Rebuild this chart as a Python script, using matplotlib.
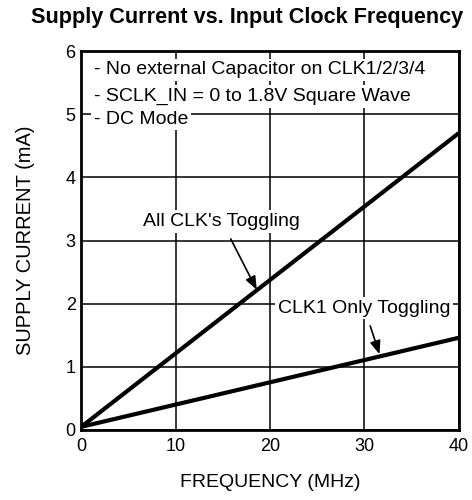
import matplotlib
matplotlib.use("Agg")
import matplotlib.pyplot as plt
import numpy as np

plt.rcParams['font.family'] = ['Liberation Sans', 'DejaVu Sans']

freq = [0, 40]
all_clk = [0.05, 4.70]
clk1_only = [0.05, 1.46]
x_ticks = [0, 10, 20, 30, 40]
y_ticks = [0, 1, 2, 3, 4, 5, 6]
notes = ["- No external Capacitor on CLK1/2/3/4",
         "- SCLK_IN = 0 to 1.8V Square Wave",
         "- DC Mode"]

fig = plt.figure(figsize=(4.72, 5.0), dpi=100)
ax = fig.add_axes([0.172, 0.14, 0.800, 0.758])
ax.set_xlim(0, 40)
ax.set_ylim(0, 6)
ax.set_xticks(x_ticks)
ax.set_yticks(y_ticks)
ax.tick_params(length=0, labelsize=13)
ax.tick_params(axis='x', pad=5.5)
ax.tick_params(axis='y', pad=4)
for s in ax.spines.values():
    s.set_linewidth(2)
ax.grid(True, color='black', linewidth=1.1)
ax.set_axisbelow(True)

ax.plot(freq, all_clk, color='black', linewidth=3, zorder=4, solid_capstyle='butt')
ax.plot(freq, clk1_only, color='black', linewidth=3, zorder=4, solid_capstyle='butt')

bb = dict(facecolor='white', edgecolor='none', pad=2)
ypos = [5.70, 5.28, 4.92]
for t, yy in zip(notes, ypos):
    ax.text(1.35, yy, t, fontsize=14, va='center', ha='left', bbox=bb, zorder=3)

ax.annotate("All CLK's Toggling", xy=(18.6, 2.22), xytext=(14.9, 3.3),
            fontsize=14, ha='center', va='center', bbox=bb, zorder=5,
            arrowprops=dict(arrowstyle='-|>,head_length=0.5,head_width=0.2',
                            color='black', lw=1.2,
                            mutation_scale=16, shrinkA=5, shrinkB=0))
ax.annotate("CLK1 Only Toggling", xy=(31.6, 1.20), xytext=(30.0, 1.93),
            fontsize=14, ha='center', va='center', bbox=bb, zorder=5,
            arrowprops=dict(arrowstyle='-|>,head_length=0.5,head_width=0.2',
                            color='black', lw=1.2,
                            mutation_scale=16, shrinkA=5, shrinkB=0))

ax.set_xlabel("FREQUENCY (MHz)", fontsize=14, labelpad=14)
ax.set_ylabel("SUPPLY CURRENT (mA)", fontsize=14.5, labelpad=22)
fig.text(0.524, 0.964, "Supply Current vs. Input Clock Frequency",
         ha='center', va='center', fontsize=15.6, fontweight='bold')

fig.savefig("out.png", dpi=100)
